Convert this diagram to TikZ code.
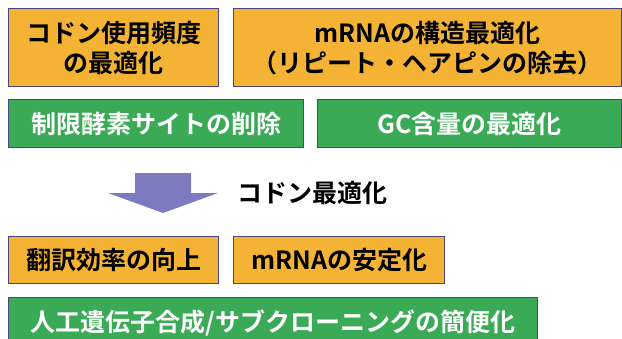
\documentclass[tikz,border=0pt]{standalone}
\usepackage{fontspec}
\newfontfamily\jp{Noto Sans CJK JP Bold}
\definecolor{oboxfill}{HTML}{F4B334}
\definecolor{gboxfill}{HTML}{3AAA57}
\definecolor{boxline}{HTML}{4A4585}
\definecolor{arrowfill}{HTML}{7D7BC0}
\tikzset{
  basebox/.style={draw=boxline, line width=1.3pt, anchor=north west, inner sep=0pt,
    align=center, font=\jp\fontsize{25}{30}\selectfont},
  obox/.style={basebox, fill=oboxfill, text=black},
  gbox/.style={basebox, fill=gboxfill, text=white},
  lbl/.style={font=\jp\fontsize{25}{30}\selectfont, text=black, anchor=west, inner sep=0pt}
}
\begin{document}
\begin{tikzpicture}[x=1pt,y=-1pt]
\useasboundingbox (0,0) rectangle (622,338);
\clip (0,0) rectangle (622,338);
\fill[white] (0,0) rectangle (622,338);
\node[obox, minimum width=210pt, minimum height=78pt] (b1) at (8,8) {コドン使用頻度\\の最適化};
\node[obox, minimum width=387.5pt, minimum height=78pt] (b2) at (233,8) {mRNAの構造最適化\\（リピート・ヘアピンの除去）};
\node[gbox, minimum width=295pt, minimum height=48pt] (b3) at (8,99) {制限酵素サイトの削除};
\node[gbox, minimum width=303.5pt, minimum height=48pt] (b4) at (317,99) {GC含量の最適化};
\fill[arrowfill] (135,173) -- (191,173) -- (191,193) -- (218,193) -- (163,213) -- (108,193) -- (135,193) -- cycle;
\node[lbl] (lab) at (237,193) {コドン最適化};
\node[obox, minimum width=210pt, minimum height=47pt] (b5) at (8,236) {翻訳効率の向上};
\node[obox, minimum width=211pt, minimum height=47pt] (b6) at (233,236) {mRNAの安定化};
\node[gbox, minimum width=529pt, minimum height=50pt] (b7) at (8,297) {人工遺伝子合成/サブクローニングの簡便化};
\end{tikzpicture}
\end{document}
